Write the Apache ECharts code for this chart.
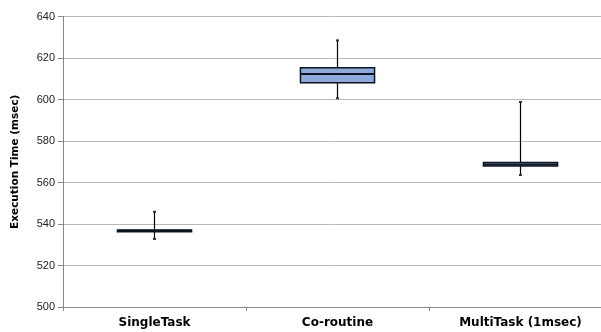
<!DOCTYPE html>
<html>
<head>
<meta charset="utf-8">
<script src="https://cdn.jsdelivr.net/npm/echarts@6/dist/echarts.min.js"></script>
<style>
html,body{margin:0;padding:0;background:#fff;}
#container{width:601px;height:332px;}
</style>
</head>
<body>
<div id="container"></div>
<script>
var categories=['SingleTask','Co-routine','MultiTask (1msec)'];
var whiskerLow=[532.8,600.6,563.6];
var q1=[536.3,608.1,567.9];
var median=[536.7,612.3,568.7];
var q3=[537.1,615.3,569.6];
var whiskerHigh=[545.9,628.5,598.8];
var yTicks={min:500,max:640,interval:20};

var data=[];
for(var i=0;i<categories.length;i++){
	data.push([i,whiskerLow[i],q1[i],median[i],q3[i],whiskerHigh[i]]);
}

function renderBox(params,api){
	var idx=api.value(0);
	var x=api.coord([idx,0])[0];
	var yLow=api.coord([idx,api.value(1)])[1];
	var yQ1=api.coord([idx,api.value(2)])[1];
	var yMed=api.coord([idx,api.value(3)])[1];
	var yQ3=api.coord([idx,api.value(4)])[1];
	var yHigh=api.coord([idx,api.value(5)])[1];
	var w=api.size([1,0])[0]*0.405;
	var line={stroke:'#000',lineWidth:1.2};
	return {
		type:'group',
		children:[
			//上下须线
			{type:'line',shape:{x1:x,y1:yHigh,x2:x,y2:yQ3},style:line},
			{type:'line',shape:{x1:x,y1:yQ1,x2:x,y2:yLow},style:line},
			{type:'rect',shape:{x:x-1.5,y:yHigh-1,width:3,height:2},style:{fill:'#333'}},
			{type:'rect',shape:{x:x-1.5,y:yLow-1,width:3,height:2},style:{fill:'#333'}},
			//箱体
			{type:'rect',shape:{x:x-w/2,y:yQ3,width:w,height:yQ1-yQ3},
				style:{fill:'#8FAADC',stroke:'#0d1420',lineWidth:1.5}},
			//中位数
			{type:'line',shape:{x1:x-w/2,y1:yMed,x2:x+w/2,y2:yMed},
				style:{stroke:'#0d1420',lineWidth:2}}
		]
	};
}

var option={
	animation:false,
	grid:{left:63,top:16.5,width:549,height:290.5,outerBoundsMode:'none'},
	xAxis:{
		type:'category',
		data:categories,
		axisLine:{lineStyle:{color:'#888',width:1}},
		axisTick:{show:true,length:4,lineStyle:{color:'#888'}},
		axisLabel:{
			color:'#000',
			fontFamily:'DejaVu Sans',
			fontWeight:'bold',
			fontSize:12,
			margin:10
		},
		splitLine:{show:false}
	},
	yAxis:{
		type:'value',
		min:yTicks.min,
		max:yTicks.max,
		interval:yTicks.interval,
		name:'Execution Time (msec)',
		nameLocation:'middle',
		nameGap:42,
		nameTextStyle:{
			color:'#000',
			fontFamily:'DejaVu Sans',
			fontWeight:'bold',
			fontSize:10.5
		},
		axisLine:{show:true,lineStyle:{color:'#888'}},
		axisTick:{show:true,length:5,lineStyle:{color:'#888'}},
		axisLabel:{
			color:'#222',
			fontFamily:'Liberation Sans',
			fontSize:11,
			margin:8
		},
		splitLine:{lineStyle:{color:'#b8b8b8',width:1}}
	},
	series:[{
		type:'custom',
		renderItem:renderBox,
		encode:{x:0,y:[1,2,3,4,5]},
		data:data
	}]
};

var mychart=echarts.init(document.getElementById('container'));
mychart.setOption(option);
</script>
</body>
</html>
